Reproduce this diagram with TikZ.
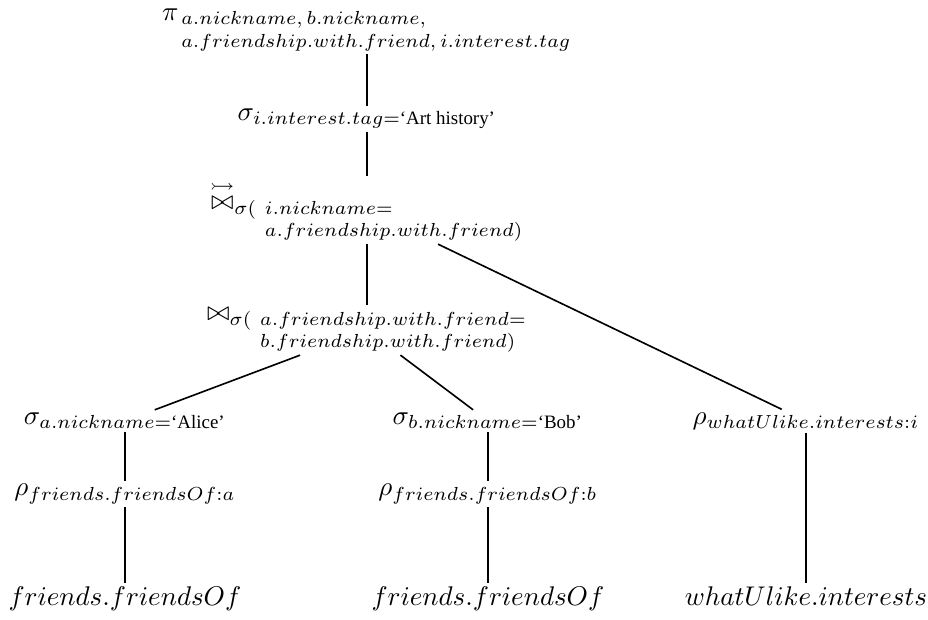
\documentclass[tikz,border=0pt]{standalone}
\usepackage{amsmath,amssymb}
\usepackage{fontspec}
\newfontfamily\tms{Liberation Serif}
\newcommand\twol[2]{\vtop{\baselineskip=8pt\lineskiplimit=-20pt\lineskip=0pt\hbox{$\scriptstyle #1$}\hbox{$\scriptstyle #2$}}}
\newcommand\twot[2]{\vtop{\fontsize{7.3}{8.5}\selectfont\lineskiplimit=-20pt\lineskip=0pt\hbox{$#1$}\hbox{$#2$}}}
\newcommand\qt[1]{\text{\tms ‘#1’}}
\tikzset{
  op/.style={inner sep=1pt},
  conn/.style={line width=0.6pt},
}
\begin{document}
\begin{tikzpicture}[x=0.37pt,y=-0.37pt]
\useasboundingbox (0,0) rectangle (928,619);
\node[op, anchor=south] (pi) at (367,54) {$\pi_{\,\twot{a.nickname, b.nickname,}{a.friendship.with.friend, i.interest.tag}}$};
\node[op] (sel) at (367,119) {$\sigma_{i.interest.tag=\qt{Art history}}$};
\node[op] (oj) at (367,210) {${\overset{\rightarrowtail}{\bowtie}}_{\sigma(\ \twol{i.nickname=}{a.friendship.with.friend)}}$};
\node[op] (join) at (367,330) {$\bowtie_{\sigma(\ \twol{a.friendship.with.friend=}{b.friendship.with.friend)}}$};
\node[op] (sa) at (125,421) {$\sigma_{a.nickname=\qt{Alice}}$};
\node[op] (sb) at (488,421) {$\sigma_{b.nickname=\qt{Bob}}$};
\node[op] (rw) at (806,421) {$\rho_{whatUlike.interests:i}$};
\node[op] (ra) at (125,494) {$\rho_{friends.friendsOf:a}$};
\node[op] (rb) at (488,494) {$\rho_{friends.friendsOf:b}$};
\node[op, anchor=north] (la) at (125,583) {$friends.friendsOf$};
\node[op, anchor=north] (lb) at (488,583) {$friends.friendsOf$};
\node[op, anchor=north] (lw) at (806,583) {$whatUlike.interests$};
\draw[conn] (pi) -- (sel);
\draw[conn] (sel) -- (oj);
\draw[conn] (oj) -- (join);
\draw[conn] (oj) -- (rw);
\draw[conn] (join) -- (sa);
\draw[conn] (join) -- (sb);
\draw[conn] (sa) -- (ra);
\draw[conn] (sb) -- (rb);
\draw[conn] (ra) -- (la);
\draw[conn] (rb) -- (lb);
\draw[conn] (rw) -- (lw);
\end{tikzpicture}
\end{document}
